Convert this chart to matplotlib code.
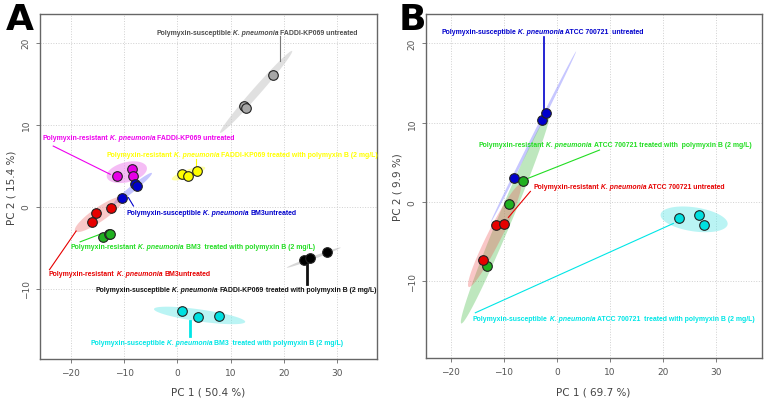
import numpy as np
import matplotlib
matplotlib.use("Agg")
import matplotlib.pyplot as plt
from matplotlib.patches import Polygon
from matplotlib import font_manager

# ---- data: PCA scores ----
# panel A
a_gray_x = [17.9, 12.45, 12.8]
a_gray_y = [16.1, 12.27, 12.07]
a_magenta_x = [-11.25, -8.55, -8.3]
a_magenta_y = [3.73, 4.63, 3.73]
a_blue_x = [-7.9, -7.6, -10.4]
a_blue_y = [2.7, 2.5, 1.1]
a_red_x = [-15.25, -16.0, -12.4]
a_red_y = [-0.82, -1.87, -0.12]
a_green_x = [-13.9, -12.8, -12.7]
a_green_y = [-3.66, -3.3, -3.4]
a_yellow_x = [0.83, 1.95, 3.64]
a_yellow_y = [3.94, 3.73, 4.34]
a_black_x = [23.8, 24.8, 28.0]
a_black_y = [-6.55, -6.3, -5.5]
a_cyan_x = [0.88, 3.8, 7.8]
a_cyan_y = [-12.8, -13.5, -13.4]

# panel B
b_blue_x = [-2.8, -2.07, -8.0]
b_blue_y = [10.34, 11.2, 3.07]
b_green_x = [-6.4, -9.1, -13.2]
b_green_y = [2.65, -0.3, -8.0]
b_red_x = [-11.4, -9.9, -14.0]
b_red_y = [-2.94, -2.7, -7.3]
b_cyan_x = [22.9, 26.75, 27.7]
b_cyan_y = [-2.06, -1.68, -2.94]

# confidence ellipses: major axis end points (x1, y1, x2, y2)
a_ellipses = {
    "gray": (8.0, 9.0, 21.5, 19.0),
    "magenta": (-13.25, 3.6, -5.75, 4.8),
    "blue": (-12.0, 0.3, -4.8, 4.1),
    "red": (-19.2, -3.0, -10.1, 1.1),
    "green": (-14.8, -4.0, -11.8, -3.0),
    "yellow": (-1.05, 3.33, 5.2, 4.75),
    "black": (20.5, -7.45, 30.6, -5.0),
    "cyan": (-4.4, -12.5, 12.7, -14.07),
}
b_ellipses = {
    "blue": (-12.5, -2.6, 3.6, 19.0),
    "green": (-18.0, -15.3, -1.4, 11.3),
    "red": (-16.6, -10.7, -6.9, 2.2),
    "cyan": (19.5, -1.55, 32.1, -2.8),
}

x_ticks = [-20, -10, 0, 10, 20, 30]
y_ticks = [-10, 0, 10, 20]

# styles
point_col = {"gray": "#a6a6a6", "magenta": "#e600e6", "blue": "#0000cc",
             "red": "#e60000", "green": "#20b020", "yellow": "#ffff00",
             "black": "#000000", "cyan": "#00e0e0"}
ell_col = {"gray": ("#c8c8c8", 0.55), "magenta": ("#ee88ee", 0.55),
           "blue": ("#8080ff", 0.45), "red": ("#ee7777", 0.4),
           "green": ("#66cc66", 0.5), "yellow": ("#ffff66", 0.6),
           "black": ("#bbbbbb", 0.6), "cyan": ("#66e8e8", 0.45)}
ell_hw = {"A": {"gray": 4, "magenta": 10, "blue": 3, "red": 7, "green": 3,
                "yellow": 4, "black": 1.5, "cyan": 6},
          "B": {"blue": 1.5, "green": 7, "red": 7, "cyan": 12}}
ell_col_b = {"blue": ("#9999ff", 0.55), "green": ("#55c055", 0.38),
             "red": ("#ee5555", 0.33), "cyan": ("#66e8e8", 0.45)}

label_col = {"gray": "#4d4d4d", "magenta": "#ee00ee", "blue": "#0000cc",
             "red": "#e60000", "green": "#22dd22", "yellow": "#ffff00",
             "black": "#111111", "cyan": "#00e6e6"}

try:
    font_manager.findfont("Liberation Sans Narrow", fallback_to_default=False)
    lab_family = ["Liberation Sans Narrow", "DejaVu Sans"]
    lab_size = 6.0
except Exception:
    lab_family = ["Liberation Sans", "DejaVu Sans"]
    lab_size = 4.95

KP = " K. pneumonia "

# labels: colour, left x, centre y, text parts, leader (x1, y1, x2, y2), leader width
a_labels = [
    ("gray", -4.0, 21.2, [("Polymyxin-susceptible", "n"), (KP, "i"), ("FADDI-KP069 untreated", "n")],
     (19.26, 20.8, 19.26, 17.76), 0.8),
    ("magenta", -25.4, 8.4, [("Polymyxin-resistant", "n"), (KP, "i"), ("FADDI-KP069 untreated", "n")],
     (-23.3, 7.39, -12.6, 3.94), 0.8),
    ("yellow", -13.4, 6.4, [("Polymyxin-resistant", "n"), (KP, "i"),
                             ("FADDI-KP069 treated with polymyxin B (2 mg/L)", "n")],
     (3.5, 5.85, 3.5, 4.95), 0.8),
    ("blue", -9.6, -0.66, [("Polymyxin-susceptible", "n"), (KP, "i"), ("BM3untreated", "n")],
     (-9.2, 1.1, -8.25, 0.07), 0.8),
    ("green", -20.0, -4.93, [("Polymyxin-resistant", "n"), (KP, "i"),
                              ("BM3  treated with polymyxin B (2 mg/L)", "n")],
     (-18.25, -4.3, -14.2, -3.3), 0.8),
    ("red", -24.1, -8.17, [("Polymyxin-resistant", "n"), (KP, "i"), ("BM3untreated", "n")],
     (-24.0, -7.7, -19.0, -2.98), 0.8),
    ("black", -15.4, -10.1, [("Polymyxin-susceptible", "n"), (KP, "i"), ("FADDI-KP069", "b"),
                              (" treated with polymyxin B (2 mg/L)", "n")],
     (24.3, -6.8, 24.3, -9.5), 2.0),
    ("cyan", -16.4, -16.6, [("Polymyxin-susceptible", "n"), (KP, "i"),
                             ("BM3  treated with polymyxin B (2 mg/L)", "n")],
     (2.4, -13.95, 2.4, -15.8), 2.0),
]
b_labels = [
    ("blue", -21.8, 21.56, [("Polymyxin-susceptible", "n"), (KP, "i"), ("ATCC 700721  untreated", "n")],
     (-2.4, 20.86, -2.4, 11.27), 1.2),
    ("green", -14.7, 7.28, [("Polymyxin-resistant", "n"), (KP, "i"),
                             ("ATCC 700721 treated with  polymyxin B (2 mg/L)", "n")],
     (8.0, 6.56, -5.96, 2.86), 0.8),
    ("red", -4.5, 1.94, [("Polymyxin-resistant", "n"), (KP, "i"), ("ATCC 700721 untreated", "n")],
     (-5.0, 1.35, -9.15, -1.93), 0.8),
    ("cyan", -15.8, -14.67, [("Polymyxin-susceptible", "n"), (KP, "i"),
                              ("ATCC 700721  treated with polymyxin B (2 mg/L)", "n")],
     (-15.36, -13.95, 21.9, -2.69), 0.8),
]


def conf_ellipse(ax, seg, half_w, color, alpha):
    x1, y1, x2, y2 = seg
    p = ax.transData.transform([(x1, y1), (x2, y2)])
    c = p.mean(axis=0)
    u = (p[1] - p[0]) / 2
    n = np.array([-u[1], u[0]]) / np.hypot(*u) * half_w
    t = np.linspace(0, 2 * np.pi, 100)
    pts = c + np.outer(np.cos(t), u) + np.outer(np.sin(t), n)
    pts = ax.transData.inverted().transform(pts)
    ax.add_patch(Polygon(pts, closed=True, facecolor=color, alpha=alpha,
                         edgecolor="none", zorder=1))


def rich_label(ax, x, y, parts, color):
    prev = None
    for txt, st in parts:
        kw = dict(fontsize=lab_size, family=lab_family, color=color, zorder=5,
                  fontweight="bold", fontstyle="italic" if st == "i" else "normal")
        if prev is None:
            prev = ax.text(x, y, txt, ha="left", va="center", **kw)
        else:
            prev = ax.annotate(txt, xy=(1, 0), xycoords=prev, ha="left", va="bottom", **kw)


def style_axes(ax, xlim, ylim, xlabel, ylabel):
    ax.set_xlim(*xlim)
    ax.set_ylim(*ylim)
    ax.set_xticks(x_ticks)
    ax.set_yticks(y_ticks)
    ax.grid(True, color="#d0d0d0", linestyle=":", linewidth=0.7)
    ax.set_axisbelow(True)
    for s in ax.spines.values():
        s.set_color("#666666")
        s.set_linewidth(1.0)
    ax.tick_params(colors="#666666", labelcolor="#555555", labelsize=6.5,
                   length=3, width=0.6)
    for lbl in ax.get_yticklabels():
        lbl.set_rotation(90)
        lbl.set_va("center")
    ax.set_xlabel(xlabel, fontsize=7.5, color="#444444", labelpad=7)
    ax.set_ylabel(ylabel, fontsize=7.5, color="#444444", labelpad=4)


fig = plt.figure(figsize=(7.67, 4.02), dpi=100)
axA = fig.add_axes([0.052, 0.1045, 0.4394, 0.858])
axB = fig.add_axes([0.555, 0.106, 0.438, 0.8565])

style_axes(axA, (-25.8, 37.4), (-18.6, 23.5), "PC 1 ( 50.4 %)", "PC 2 ( 15.4 %)")
style_axes(axB, (-24.7, 38.5), (-19.7, 23.7), "PC 1 ( 69.7 %)", "PC 2 ( 9.9 %)")

for key, seg in a_ellipses.items():
    col, al = ell_col[key]
    conf_ellipse(axA, seg, ell_hw["A"][key], col, al)
for key, seg in b_ellipses.items():
    col, al = ell_col_b[key]
    conf_ellipse(axB, seg, ell_hw["B"][key], col, al)

a_points = [("gray", a_gray_x, a_gray_y), ("magenta", a_magenta_x, a_magenta_y),
            ("blue", a_blue_x, a_blue_y), ("red", a_red_x, a_red_y),
            ("green", a_green_x, a_green_y), ("yellow", a_yellow_x, a_yellow_y),
            ("black", a_black_x, a_black_y), ("cyan", a_cyan_x, a_cyan_y)]
b_points = [("blue", b_blue_x, b_blue_y), ("green", b_green_x, b_green_y),
            ("red", b_red_x, b_red_y), ("cyan", b_cyan_x, b_cyan_y)]

for ax, labels, points in [(axA, a_labels, a_points), (axB, b_labels, b_points)]:
    for key, lx, ly, parts, lead, lw in labels:
        ax.plot([lead[0], lead[2]], [lead[1], lead[3]], color=label_col[key] if key != "gray" else "#777777",
                linewidth=lw, zorder=2)
    for key, xs, ys in points:
        ax.scatter(xs, ys, s=48, facecolor=point_col[key], edgecolor="#222222",
                   linewidth=0.8, zorder=4)
    for key, lx, ly, parts, lead, lw in labels:
        rich_label(ax, lx, ly, parts, label_col[key])

fig.text(0.008, 0.95, "A", fontsize=26, fontweight="heavy", va="center", ha="left")
fig.text(0.52, 0.95, "B", fontsize=26, fontweight="heavy", va="center", ha="left")

fig.savefig("out.png", dpi=100)
